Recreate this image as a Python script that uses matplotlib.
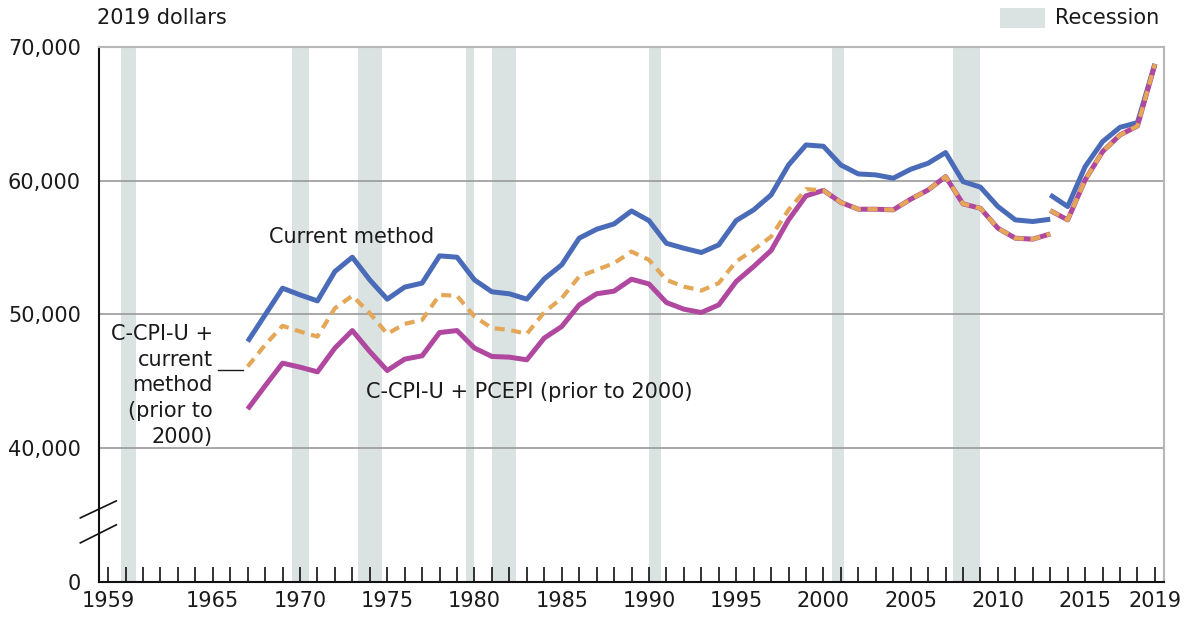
import numpy as np
import matplotlib
matplotlib.use("Agg")
import matplotlib.pyplot as plt
from matplotlib.patches import Rectangle

plt.rcParams['font.family'] = ['DejaVu Sans']

# ---- data ----
years_a = list(range(1967, 2014))
current_a = [47960, 49950, 51950, 51450, 51000, 53200, 54270, 52570, 51130, 52030,
             52330, 54370, 54270, 52570, 51680, 51530, 51130, 52650, 53700, 55690,
             56360, 56760, 57730, 57010, 55310, 54940, 54620, 55190, 57010, 57810,
             58930, 61170, 62670, 62570, 61170, 60500, 60430, 60180, 60850, 61300,
             62100, 59930, 59510, 58060, 57060, 56940, 57110]
ccpi_cur_a = [46090, 47710, 49130, 48710, 48330, 50450, 51380, 50080, 48530, 49280,
              49580, 51450, 51380, 49830, 48960, 48830, 48530, 50150, 51200, 52820,
              53320, 53820, 54690, 54070, 52570, 52070, 51770, 52330, 53950, 54820,
              55810, 57810, 59360, 59270, 58370, 57860, 57860, 57810, 58610, 59300,
              60300, 58260, 57930, 56440, 55690, 55620, 56010]
ccpi_pce_a = [42900, 44640, 46340, 46040, 45690, 47470, 48780, 47210, 45790, 46640,
              46890, 48630, 48780, 47470, 46840, 46790, 46590, 48220, 49080, 50700,
              51530, 51730, 52620, 52270, 50880, 50380, 50130, 50700, 52450, 53570,
              54770, 57060, 58860, 59270, 58370, 57860, 57860, 57810, 58610, 59300,
              60300, 58260, 57930, 56440, 55690, 55620, 56010]

years_b = list(range(2013, 2020))
current_b = [58930, 58060, 61050, 62920, 63990, 64340, 68730]
ccpi_cur_b = [57760, 57060, 60050, 62170, 63420, 64090, 68730]
ccpi_pce_b = [57760, 57060, 60050, 62170, 63420, 64090, 68730]

recession_start = [1959.75, 1969.55, 1973.33, 1979.5, 1981.0, 1990.0, 2000.5, 2007.4]
recession_end = [1960.6, 1970.5, 1974.7, 1980.0, 1982.4, 1990.7, 2001.2, 2009.0]

xtick_labels = [1959, 1965, 1970, 1975, 1980, 1985, 1990, 1995, 2000, 2005, 2010, 2015, 2019]
ytick_values = [30000, 40000, 50000, 60000, 70000]
ytick_labels = ['0', '40,000', '50,000', '60,000', '70,000']

# ---- colours ----
BLUE = '#4A6CB8'
ORANGE = '#E3A757'
MAGENTA = '#B0489F'
REC = '#DAE3E2'
GRID = '#9A9A9A'
TXT = '#1a1a1a'
FS = 15

fig = plt.figure(figsize=(11.84, 6.2), dpi=100)
ax = fig.add_axes([99/1184, 1 - 581.5/620, (1164-99)/1184, (581.5-47)/620])
ax.set_xlim(1958.48, 2019.52)
ax.set_ylim(30000, 70000)

for s, e in zip(recession_start, recession_end):
    ax.axvspan(s, e, color=REC, lw=0, zorder=0)

for yv in [40000, 50000, 60000]:
    ax.axhline(yv, color=GRID, lw=1.2, zorder=1)

lw = 3.6
ax.plot(years_a, current_a, color=BLUE, lw=lw, solid_capstyle='butt', zorder=3)
ax.plot(years_b, current_b, color=BLUE, lw=lw, solid_capstyle='butt', zorder=3)
ax.plot(years_a, ccpi_pce_a, color=MAGENTA, lw=lw, solid_capstyle='butt', zorder=4)
ax.plot(years_b, ccpi_pce_b, color=MAGENTA, lw=lw, solid_capstyle='butt', zorder=4)
ax.plot(years_a, ccpi_cur_a, color=ORANGE, lw=3.0, ls=(0, (2.4, 1.6)), zorder=5)
ax.plot(years_b, ccpi_cur_b, color=ORANGE, lw=3.0, ls=(0, (2.4, 1.6)), zorder=5)

# spines
for side in ['top', 'right']:
    ax.spines[side].set_color('#B8B8B8')
    ax.spines[side].set_linewidth(1.5)
for side in ['left', 'bottom']:
    ax.spines[side].set_color('#111111')
    ax.spines[side].set_linewidth(1.5)

ax.set_xticks(list(range(1959, 2020)))
ax.set_xticklabels([str(y) if y in xtick_labels else '' for y in range(1959, 2020)])
ax.tick_params(axis='x', direction='in', length=11, width=1.2, color='#111111',
               labelsize=FS, pad=7, labelcolor=TXT)
ax.set_yticks(ytick_values)
ax.set_yticklabels(ytick_labels)
ax.tick_params(axis='y', length=0, labelsize=FS, pad=13, labelcolor=TXT)

# axis break marks
ax.plot([1957.41, 1959.47], [34760, 36030], color='#111111', lw=1.2, clip_on=False, zorder=6)
ax.plot([1957.41, 1959.47], [32890, 34240], color='#111111', lw=1.2, clip_on=False, zorder=6)

# texts
fig.text(97/1184, 1 - 18/620, '2019 dollars', fontsize=FS, va='center', ha='left', color=TXT)
fig.text(352/1184, 1 - 237/620, 'Current method', fontsize=FS, va='center', ha='center', color=TXT)
fig.text(366/1184, 1 - 392/620, 'C-CPI-U + PCEPI (prior to 2000)', fontsize=FS, va='center',
         ha='left', color=TXT)
for txt, yp in zip(['C-CPI-U +', 'current', 'method', '(prior to', '2000)'],
                   [334, 360, 385, 411, 437]):
    fig.text(213/1184, 1 - yp/620, txt, fontsize=FS, va='center', ha='right', color=TXT)
fig.add_artist(plt.Line2D([218/1184, 243/1184], [1 - 370/620, 1 - 370/620],
                          color=TXT, lw=1.0))

# legend
fig.add_artist(Rectangle((1000/1184, 1 - 28/620), 45/1184, 20/620, color=REC, lw=0))
fig.text(1055/1184, 1 - 18/620, 'Recession', fontsize=FS, va='center', ha='left', color=TXT)

fig.savefig('out.png', dpi=100)
